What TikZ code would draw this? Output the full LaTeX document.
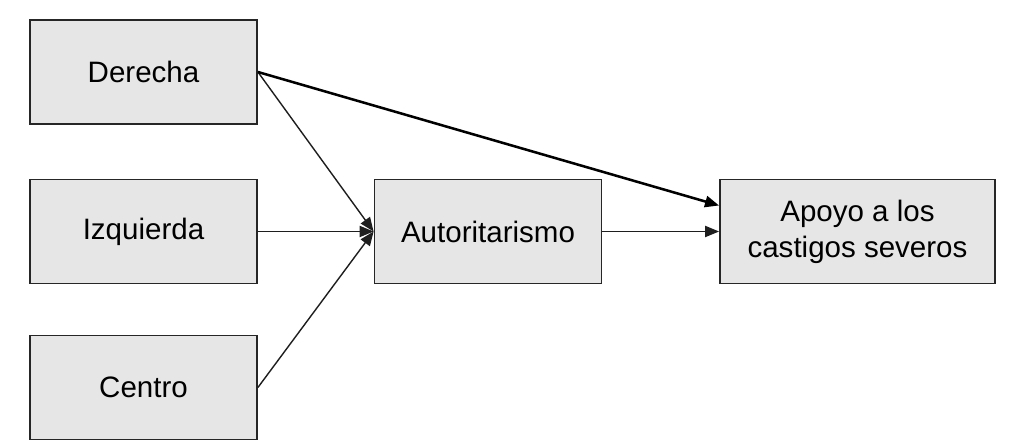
\documentclass[tikz,border=0pt]{standalone}
\usepackage{fontspec}
\setmainfont{Liberation Sans}
\usetikzlibrary{arrows.meta,positioning}
\definecolor{boxGray}{RGB}{230,230,230}
\definecolor{lineGray}{RGB}{30,30,30}

\begin{document}
\begin{tikzpicture}[
        varbox/.style={draw=black!85, line width=1.3pt, fill=boxGray,
          minimum width=5.675cm, minimum height=2.6cm, inner sep=2pt,
          align=center, font=\fontsize{21}{25.5}\selectfont},
        link/.style={-{Triangle[length=10pt,width=8pt]}, draw=lineGray, line width=1pt},
        >=Stealth
      ]
        \useasboundingbox (0,0) rectangle (25.775,11.175);
        \node[varbox] (der) at (3.5875, 9.375) {Derecha};
        \node[varbox] (izq) at (3.5875, 5.3875) {Izquierda};
        \node[varbox] (cen) at (3.5875, 1.4875) {Centro};
        \node[varbox] (aut) at (12.2, 5.3875) {Autoritarismo};
        \node[varbox, minimum width=6.875cm] (apo) at (21.4375, 5.3875)
          {Apoyo a los\\castigos severos};

        % Paths into the mediator
        \draw[link] (der.east) -- (aut.west);
        \draw[link] (izq.east) -- (aut.west);
        \draw[link] (cen.east) -- (aut.west);

        % Paths into the outcome
        \draw[link, draw=black, line width=1.8pt] (der.east) -- ([yshift=0.65cm]apo.west);
        \draw[link] (aut.east) -- (aut.east -| apo.west);
      \end{tikzpicture}
\end{document}
